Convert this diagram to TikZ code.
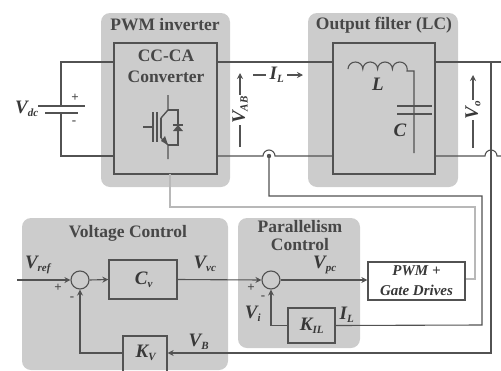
\documentclass[tikz,border=0pt]{standalone}
\usepackage{fontspec}
\setmainfont{Liberation Serif}
\usetikzlibrary{arrows.meta}
\definecolor{panel}{gray}{0.80}
\definecolor{wirec}{gray}{0.32}
\definecolor{softw}{gray}{0.72}
\newcommand{\sbs}[1]{\textsubscript{\fontsize{11}{11}\selectfont #1}}
\tikzset{
 x=1pt,y=-1pt,
 panel/.style={fill=panel,draw=none,rounded corners=9pt},
 wire/.style={draw=wirec,line width=1.1pt},
 softwire/.style={draw=softw,line width=1.1pt},
 blockbox/.style={draw=wirec,line width=1.3pt,inner sep=0pt},
 ttl/.style={font=\bfseries\fontsize{17.5}{18}\selectfont,text=black!72,align=center,inner sep=0pt},
 lab/.style={font=\bfseries\itshape\fontsize{19}{19}\selectfont,text=black!78,inner sep=0pt},
 sign/.style={font=\bfseries\fontsize{13}{13}\selectfont,text=black!72,inner sep=0pt},
 sumnode/.style={circle,draw=wirec,line width=1.1pt,minimum size=18pt,inner sep=0pt},
 arr/.style={-{Stealth[length=6pt,width=6pt]}},
}
\begin{document}
\begin{tikzpicture}
\useasboundingbox (0,0) rectangle (501,370);
% panels
\fill[panel] (101,13) rectangle (230,187);
\fill[panel] (308,13) rectangle (458,187);
\fill[panel] (22,218) rectangle (228,370);
\fill[panel] (238,218) rectangle (360,348);
% blocks
\node[blockbox,fill=panel,minimum width=103pt,minimum height=131pt] (conv) at (165.5,108.5) {};
\node[blockbox,fill=panel,minimum width=102pt,minimum height=131pt] (filt) at (384,108.5) {};
\node[blockbox,minimum width=68pt,minimum height=39pt] (cv) at (143,279.5) {};
\node[blockbox,minimum width=44pt,minimum height=36pt] (kv) at (145,354) {};
\node[blockbox,minimum width=47pt,minimum height=35pt] (kil) at (311.5,325.5) {};
\node[blockbox,fill=white,minimum width=97pt,minimum height=38pt,align=center,font=\bfseries\itshape\fontsize{15}{20}\selectfont,text=black!78] (pwm) at (416.5,281) {PWM +\\Gate Drives};
\node[sumnode] (s1) at (80,280) {};
\node[sumnode] (s2) at (271,280) {};
% titles
\node[ttl] (t1) at (165,25) {PWM inverter};
\node[ttl] (t2) at (384,25) {Output filter (LC)};
\node[ttl] (t3) at (128,233) {Voltage Control};
\node[ttl,font=\bfseries\fontsize{17.5}{18}\selectfont] (t4) at (300,236) {Parallelism\\Control};
\node[ttl,font=\bfseries\fontsize{17.5}{21}\selectfont] (t5) at (166,66.5) {CC-CA\\Converter};
% named junctions
\coordinate (dcT) at (61,62);
\coordinate (dcB) at (61,156);
\coordinate (batA) at (61,106);
\coordinate (batB) at (61,113);
\coordinate (eR1) at (501,62);
\coordinate (eR2) at (501,156);
\coordinate (hop1) at (269,156);
% power wires
\draw[wire] (conv.west |- dcT) -- (dcT) -- (batA);
\draw[wire] (batB) -- (dcB) -- (conv.west |- dcB);
\draw[wire] (conv.east |- dcT) -- (filt.west |- dcT);
\draw[wire] (filt.east |- dcT) -- (eR1);
\draw[wire] (conv.east |- dcB) -- (263,156) arc[start angle=180,end angle=0,radius=6pt] -- (filt.west |- dcB);
\draw[wire] (filt.east |- dcB) -- (485,156) arc[start angle=180,end angle=0,radius=6pt] -- (eR2);
% battery
\draw[wire,line width=1.2pt] (38,106) -- (85,106);
\draw[wire,line width=1.2pt] (45,113) -- (78,113);
\node[sign] (plus) at (75,98) {+};
\node[sign] (minus) at (74,123) {-};
\node[lab] (vdc) at (27,109) {V\sbs{dc}};
% switch
\draw[wire,line width=1.4pt] (168,95) -- (168,110) -- (161,118);
\draw[wire,line width=1.4pt] (168,159) -- (168,145) -- (161,138);
\draw[wire,line width=1.5pt] (161,118) -- (161,138);
\draw[wire,line width=1.5pt] (153,112) -- (153,142);
\draw[wire,line width=1.5pt] (157,112) -- (157,142);
\draw[wire] (143,127) -- (153,127);
\draw[wire] (168,110) -- (178,110) -- (178,145) -- (168,145);
\draw[wire,line width=1.5pt] (173,125) -- (183,125);
\fill[wirec] (173,131) -- (183,131) -- (178,125) -- cycle;
\fill[wirec] (168,145) -- (161,141) -- (165,136) -- cycle;
% inverter out labels
\draw[wire,arr] (240,147) -- (240,73);
\node[lab,rotate=90,fill=white,inner xsep=1pt,inner ysep=0pt] (vab) at (240,110) {V\sbs{AB}};
\draw[wire] (253,75) -- (266,75);
\node[lab] (il) at (277,75) {I\sbs{L}};
\draw[wire,arr] (287,75) -- (303,75);
% LC
\draw[wire] (348,69) arc[start angle=180,end angle=0,x radius=7.4pt,y radius=7pt]
 arc[start angle=180,end angle=0,x radius=7.4pt,y radius=7pt]
 arc[start angle=180,end angle=0,x radius=7.4pt,y radius=7pt]
 arc[start angle=180,end angle=0,x radius=7.4pt,y radius=7pt] -- (407,71) -- (414,71) -- (414,153);
\draw[wire,line width=1.4pt] (397,106) -- (432,106);
\draw[wire,line width=1.4pt] (397,114) -- (432,114);
\node[lab] (ll) at (378,84) {L};
\node[lab] (cc) at (400,130) {C};
% Vo
\draw[wire,arr] (473,148) -- (473,75);
\node[lab,rotate=90,fill=white,inner xsep=1pt,inner ysep=0pt] (vo) at (473,110) {V\sbs{o}};
% sensing
\draw[wire] (hop1) -- (269,196) -- (482,196) -- (482,325) -- (kil.east);
\fill[wirec] (hop1) circle (2.2pt);
\draw[softwire] (170,174) -- (170,207) -- (475,207) -- (475,279) -- (pwm.east |- 0,279);
\draw[wire,arr] (491,62) -- (491,353) -- (kv.east |- 0,353);
% control
\coordinate (vin) at (17,280);
\draw[wire,arr] (vin) -- (s1.west);
\draw[wire,arr] (s1.east) -- (cv.west);
\draw[wire,arr] (cv.east) -- (s2.west);
\draw[wire,arr] (s2.east) -- (pwm.west |- s2.east);
\draw[wire,arr] (kv.west |- 0,353) -- (80,353) -- (s1.south);
\draw[wire,arr] (kil.west) -- (271,325.5) -- (s2.south);
% control labels
\node[lab] (vref) at (38,265) {V\sbs{ref}};
\node[lab] (cvl) at (144,280) {C\sbs{v}};
\node[lab] (vvc) at (205,264) {V\sbs{vc}};
\node[lab] (vpc) at (325,265) {V\sbs{pc}};
\node[lab] (vi) at (253,314) {V\sbs{i}};
\node[lab] (kill) at (312,326) {K\sbs{IL}};
\node[lab] (ill) at (347,315) {I\sbs{L}};
\node[lab] (kvl) at (146,353) {K\sbs{V}};
\node[lab] (vbl) at (199,342) {V\sbs{B}};
\node[sign] (p1) at (58,288) {+};
\node[sign] (m1) at (72,299) {-};
\node[sign] (p2) at (251,288) {+};
\node[sign] (m2) at (263,298) {-};
\end{tikzpicture}
\end{document}
